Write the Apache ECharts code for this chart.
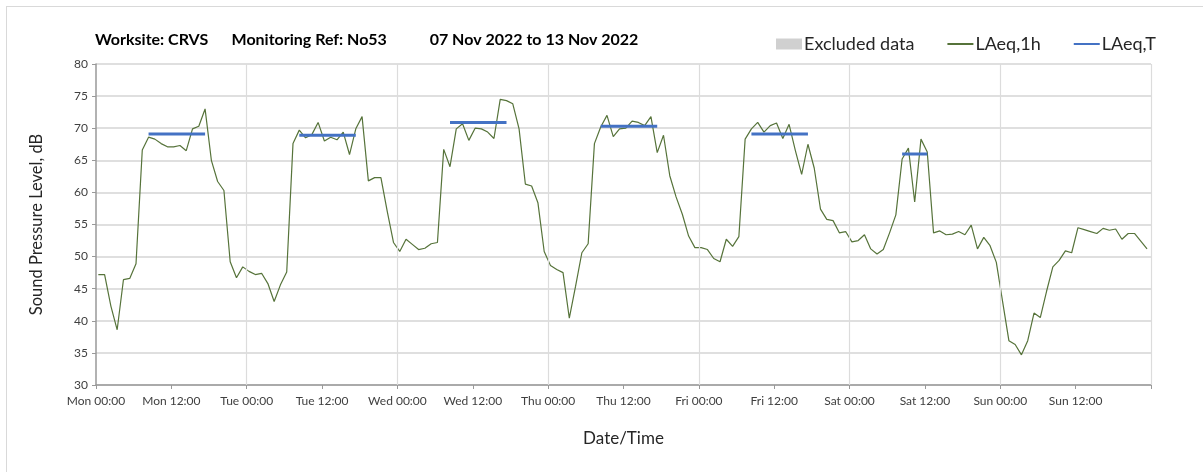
<!DOCTYPE html>
<html>
<head>
<meta charset="utf-8">
<script src="https://cdn.jsdelivr.net/npm/echarts@6/dist/echarts.min.js"></script>
<style>
  html, body { margin: 0; padding: 0; background: #fff; }
  #frame { position: absolute; left: 6px; top: 6px; width: 1210px; height: 480px;
           border-left: 1px solid #d9d9d9; border-top: 1px solid #d9d9d9; }
  #main { position: absolute; left: 0; top: 0; width: 1203px; height: 472px; }
</style>
</head>
<body>
<div id="frame"></div>
<div id="main"></div>
<script>
// hourly LAeq,1h readings, Mon 00:00 .. Sun 23:00
var lAeq1h = [
  47.2, 47.2, 42.3, 38.6, 46.4, 46.6, 48.9, 66.6, 68.6, 68.3, 67.6, 67.1,
  67.1, 67.3, 66.5, 69.9, 70.3, 73.0, 65.0, 61.7, 60.3, 49.2, 46.7, 48.4,
  47.7, 47.2, 47.4, 45.8, 43.0, 45.6, 47.6, 67.6, 69.7, 68.5, 69.0, 70.9,
  68.0, 68.6, 68.2, 69.4, 65.9, 69.9, 71.8, 61.8, 62.3, 62.3, 57.1, 52.2,
  50.8, 52.7, 51.9, 51.1, 51.3, 52.0, 52.2, 66.7, 64.0, 69.9, 70.7, 68.1,
  70.0, 69.9, 69.4, 68.4, 74.5, 74.3, 73.8, 69.9, 61.3, 61.0, 58.4, 50.8,
  48.6, 48.0, 47.5, 40.4, 45.4, 50.6, 52.0, 67.6, 70.2, 72.0, 68.7, 69.9,
  70.0, 71.1, 70.9, 70.4, 71.8, 66.2, 68.9, 62.6, 59.3, 56.6, 53.2, 51.4,
  51.4, 51.1, 49.7, 49.2, 52.7, 51.6, 53.1, 68.3, 69.9, 70.9, 69.4, 70.4,
  70.8, 68.4, 70.6, 66.5, 62.8, 67.5, 63.8, 57.4, 55.8, 55.6, 53.7, 53.9,
  52.3, 52.5, 53.4, 51.2, 50.4, 51.1, 53.7, 56.5, 65.2, 66.9, 58.5, 68.3,
  66.3, 53.7, 54.0, 53.4, 53.5, 53.9, 53.4, 54.9, 51.2, 53.0, 51.7, 49.1,
  43.0, 36.9, 36.3, 34.7, 36.9, 41.2, 40.5, 44.6, 48.4, 49.4, 50.9, 50.6,
  54.5, 54.2, 53.9, 53.6, 54.4, 54.1, 54.3, 52.7, 53.6, 53.6, 52.4, 51.2
];

// LAeq,T periods (hour index of first and last reading) and values
var periodStart = [8, 32, 56, 80, 104, 128];
var periodEnd   = [17, 41, 65, 89, 113, 132];
var periodValue = [69.1, 68.9, 70.9, 70.3, 69.1, 66.0];

var tickLabels = ['Mon 00:00', 'Mon 12:00', 'Tue 00:00', 'Tue 12:00', 'Wed 00:00', 'Wed 12:00',
                  'Thu 00:00', 'Thu 12:00', 'Fri 00:00', 'Fri 12:00', 'Sat 00:00', 'Sat 12:00',
                  'Sun 00:00', 'Sun 12:00'];

// vertical grid only at midnight
var dayLines = [24, 48, 72, 96, 120, 144, 168];

var readingOffset = 0.37; // readings sit a little after the hour mark

var lineData = [];
for (var i = 0; i < lAeq1h.length; i++) {
  lineData.push([i + readingOffset, lAeq1h[i]]);
}
var periodData = [];
for (var p = 0; p < periodValue.length; p++) {
  periodData.push([periodStart[p] + readingOffset, periodValue[p]]);
  periodData.push([periodEnd[p] + readingOffset, periodValue[p]]);
  periodData.push([periodEnd[p] + 1, null]);
}
var dayMarks = dayLines.map(function (h) { return { xAxis: h }; });

var FONT = 'Lato, "Open Sans", sans-serif';
var myChart = echarts.init(document.getElementById('main'));

var option = {
  animation: false,
  title: {
    text: 'Worksite: CRVS      Monitoring Ref: No53           07 Nov 2022 to 13 Nov 2022',
    left: 90,
    top: 27,
    textStyle: { fontFamily: FONT, fontSize: 16, fontWeight: 'bold', color: '#000' }
  },
  legend: {
    left: 771,
    top: 30,
    itemWidth: 26,
    itemHeight: 11,
    itemGap: 32,
    textStyle: { fontFamily: FONT, fontSize: 18, color: '#262626', padding: [0, 0, 0, -3] },
    data: [
      { name: 'Excluded data', icon: 'rect' },
      { name: 'LAeq,1h', itemStyle: { opacity: 0 } },
      { name: 'LAeq,T', itemStyle: { opacity: 0 } }
    ]
  },
  grid: { left: 96, right: 52, top: 64, bottom: 87 },
  xAxis: {
    type: 'value',
    min: 0,
    max: 168,
    interval: 12,
    name: 'Date/Time',
    nameLocation: 'middle',
    nameGap: 45,
    nameTextStyle: { fontFamily: FONT, fontSize: 17, color: '#262626' },
    axisLine: { lineStyle: { color: '#999', width: 1.5 } },
    axisTick: { show: true, length: 4, lineStyle: { color: '#999' } },
    axisLabel: {
      fontFamily: FONT, fontSize: 12, color: '#404040', margin: 10,
      formatter: function (v) { return tickLabels[v / 12] || ''; }
    },
    splitLine: { show: false }
  },
  yAxis: {
    type: 'value',
    min: 30,
    max: 80,
    interval: 5,
    name: 'Sound Pressure Level, dB',
    nameLocation: 'middle',
    nameGap: 51,
    nameTextStyle: { fontFamily: FONT, fontSize: 16.5, color: '#262626' },
    axisLine: { show: true, lineStyle: { color: '#999', width: 1.5 } },
    axisTick: { show: true, length: 4, lineStyle: { color: '#999' } },
    axisLabel: { fontFamily: FONT, fontSize: 12, color: '#404040', margin: 8 },
    splitLine: { show: true, lineStyle: { color: '#d4d4d4', width: 1.5 } }
  },
  series: [
    {
      name: 'Excluded data',
      type: 'bar',
      data: [],
      itemStyle: { color: '#d0d0d0' },
      z: 1,
      markLine: {
        silent: true,
        symbol: 'none',
        label: { show: false },
        lineStyle: { color: '#dcdcdc', width: 1.2, type: 'solid' },
        data: dayMarks
      }
    },
    {
      name: 'LAeq,1h',
      type: 'line',
      data: lineData,
      symbol: 'none',
      lineStyle: { color: '#56733a', width: 1.2 },
      itemStyle: { color: '#56733a' },
      z: 3
    },
    {
      name: 'LAeq,T',
      type: 'line',
      data: periodData,
      symbol: 'none',
      connectNulls: false,
      lineStyle: { color: '#4472c4', width: 3 },
      itemStyle: { color: '#4472c4' },
      z: 4
    }
  ]
};

myChart.setOption(option);
</script>
</body>
</html>
